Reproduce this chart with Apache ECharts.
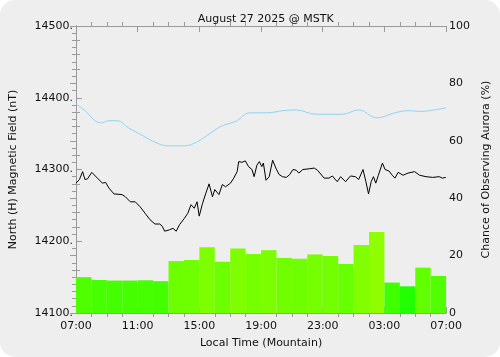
<!DOCTYPE html>
<html>
<head>
<meta charset="utf-8">
<script src="https://cdn.jsdelivr.net/npm/echarts@6/dist/echarts.min.js"></script>
<style>
  html, body { margin:0; padding:0; background:#ffffff; }
  #wrap { width:500px; height:357px; background:#eeeeee; border-radius:15px; overflow:hidden; }
  #chart { width:500px; height:357px; }
</style>
</head>
<body>
<div id="wrap"><div id="chart"></div></div>
<script>
// ---- data (hours after 07:00 local) ----
var titleText = 'August 27 2025 @ MSTK';
var hourLabels = ['07:00','11:00','15:00','19:00','23:00','03:00','07:00'];
var barCategories = ['07','08','09','10','11','12','13','14','15','16','17','18','19','20','21','22','23','00','01','02','03','04','05','06'];
var auroraPct = [12.5,11.5,11.3,11.3,11.4,11.1,18.1,18.5,22.9,17.9,22.5,20.6,21.9,19.2,18.9,20.4,19.9,17.1,23.7,28.2,10.6,9.3,15.8,12.9];

var magHours = [0.00,0.22,0.43,0.58,0.75,1.02,1.39,1.71,1.92,2.14,2.46,2.99,3.20,3.52,3.84,4.16,4.48,4.80,5.12,5.43,5.59,5.75,6.07,6.29,6.50,6.71,7.03,7.25,7.46,7.67,7.85,7.99,8.21,8.42,8.63,8.85,9.00,9.27,9.49,9.70,10.02,10.23,10.45,10.55,10.77,10.98,11.19,11.41,11.55,11.73,11.89,12.05,12.15,12.32,12.53,12.75,12.96,13.17,13.39,13.64,13.86,14.07,14.28,14.45,14.71,15.13,15.45,15.66,16.09,16.41,16.62,16.94,17.16,17.48,17.80,18.12,18.33,18.61,18.80,18.97,19.14,19.29,19.44,19.61,19.87,20.04,20.29,20.51,20.68,20.89,21.21,21.53,21.96,22.28,22.70,23.13,23.55,23.76,23.98];
var magValues = [14281,14286,14297,14286,14287,14296,14288,14281,14282,14274,14266,14265,14262,14255,14255,14248,14239,14230,14224,14224,14221,14214,14216,14218,14214,14223,14232,14239,14251,14246,14255,14235,14253,14267,14280,14262,14272,14265,14279,14276,14281,14288,14297,14311,14310,14312,14304,14300,14290,14306,14311,14304,14309,14285,14290,14313,14302,14293,14290,14289,14293,14300,14299,14295,14300,14301,14302,14299,14288,14288,14291,14283,14290,14283,14291,14290,14286,14300,14283,14266,14283,14290,14281,14292,14309,14300,14298,14292,14288,14296,14292,14295,14297,14292,14290,14289,14290,14288,14289];

var fcHours = [0,0.64,1.18,1.60,2.14,2.67,3.41,4.26,5.12,5.97,7.03,7.89,8.74,9.49,10.34,11.30,12.37,13.43,14.28,15.56,17.26,18.33,19.50,20.68,21.53,22.38,23.23,24.0];
var fcValues = [14391.5,14381,14369,14365,14368,14368,14358,14348,14338,14333,14333,14339,14351,14361,14367,14379,14379,14382,14383,14377,14377,14383,14372,14379,14382,14381,14383,14386];

function zip(a,b){ var o=[]; for(var i=0;i<a.length;i++) o.push([a[i],b[i]]); return o; }

function barColor(v){
  var t = Math.sqrt(Math.max(v-9.3,0));
  var r = Math.round(Math.min(200, 34 + 25*t));
  return 'rgb(' + r + ',255,0)';
}

var font = 'DejaVu Sans';
var axisCol = '#9a9a9a';
var txt = '#111111';

function frameAxis(extra){
  var base = {
    axisLine: { show: true, lineStyle: { color: axisCol } },
    axisTick: { show: true, inside: true, length: 6, lineStyle: { color: axisCol } },
    minorTick: { show: true, length: -4, lineStyle: { color: axisCol } },
    splitLine: { show: false }
  };
  for (var k in extra) base[k] = extra[k];
  base.minorTick.splitNumber = extra.minorSplit;
  delete base.minorSplit;
  return base;
}

var chart = echarts.init(document.getElementById('chart'), null, {renderer:'canvas'});
chart.setOption({
  backgroundColor: 'transparent',
  animation: false,
  textStyle: { fontFamily: font },
  title: {
    text: titleText, left: 260.7, top: 9, textAlign: 'center',
    textStyle: { fontFamily: font, fontSize: 11, fontWeight: 'normal', color: txt }
  },
  grid: { left: 73, right: 51, top: 26, bottom: 44 },
  xAxis: [
    frameAxis({
      type: 'value', min: 0, max: 24, interval: 4, position: 'bottom', minorSplit: 4,
      name: 'Local Time (Mountain)', nameLocation: 'middle', nameGap: 25,
      nameTextStyle: { fontFamily: font, fontSize: 11, color: txt },
      axisLabel: { fontFamily: font, fontSize: 11, color: txt, margin: 8,
        formatter: function(v){ return hourLabels[Math.round(v/4)]; } }
    }),
    frameAxis({
      type: 'value', min: 0, max: 24, interval: 4, position: 'top', minorSplit: 4,
      axisLabel: { show: false }
    }),
    {
      type: 'category', data: barCategories, show: false, position: 'bottom',
      boundaryGap: true
    }
  ],
  yAxis: [
    frameAxis({
      type: 'value', min: 14100, max: 14500, interval: 100, position: 'left', minorSplit: 10,
      name: 'North (H) Magnetic Field (nT)', nameLocation: 'middle', nameGap: 57,
      nameTextStyle: { fontFamily: font, fontSize: 11, color: txt },
      axisLabel: { fontFamily: font, fontSize: 11, color: txt, margin: 3,
        formatter: function(v){ return v + '.'; } }
    }),
    frameAxis({
      type: 'value', min: 0, max: 100, interval: 20, position: 'right', minorSplit: 4,
      name: 'Chance of Observing Aurora (%)', nameLocation: 'middle', nameGap: 30,
      nameRotate: 90,
      nameTextStyle: { fontFamily: font, fontSize: 11, color: txt },
      axisLabel: { fontFamily: font, fontSize: 11, color: txt, margin: 3 }
    })
  ],
  series: [
    {
      type: 'bar', xAxisIndex: 2, yAxisIndex: 1, data: auroraPct,
      barWidth: '100%', barCategoryGap: '0%', z: 1,
      itemStyle: { color: function(p){ return barColor(p.value); } }
    },
    {
      type: 'line', xAxisIndex: 0, yAxisIndex: 0, data: zip(fcHours, fcValues),
      smooth: 0.4, showSymbol: false, z: 3,
      lineStyle: { color: '#8fd3f0', width: 1 }
    },
    {
      type: 'line', xAxisIndex: 0, yAxisIndex: 0, data: zip(magHours, magValues),
      showSymbol: false, z: 4,
      lineStyle: { color: '#000000', width: 1 }
    }
  ]
});
</script>
</body>
</html>
